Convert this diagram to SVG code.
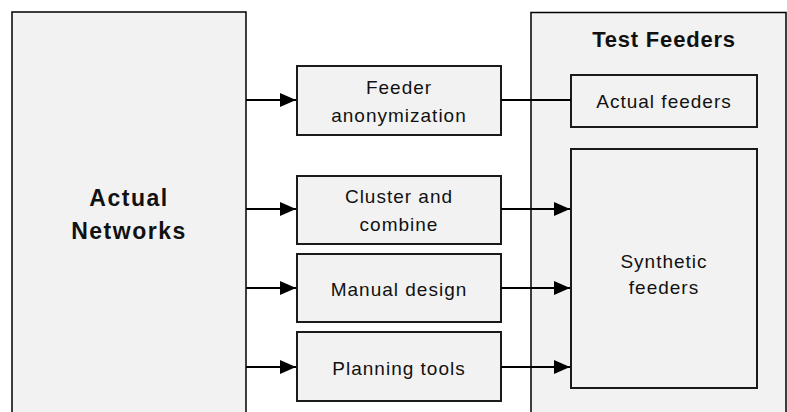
<svg xmlns="http://www.w3.org/2000/svg" width="787" height="412" viewBox="0 0 787 412">
<style>
.big{fill:#f2f2f2;stroke:#000;stroke-width:1.5}
.box{fill:#f2f2f2;stroke:#1a1a1a;stroke-width:2}
.t{font-family:"Liberation Sans",Arial,sans-serif;font-size:19px;fill:#111;text-anchor:middle;letter-spacing:1px}
.b{font-family:"Liberation Sans",Arial,sans-serif;font-size:22px;font-weight:bold;fill:#111;text-anchor:middle;letter-spacing:0.8px}
.c{stroke:#000;stroke-width:2;fill:none}
</style>
<defs>
<marker id="ah" viewBox="0 0 16 14" refX="16" refY="7" markerWidth="16" markerHeight="14" markerUnits="userSpaceOnUse" orient="auto">
<path d="M0,0 L16,7 L0,14 Z" fill="#000"/>
</marker>
</defs>
<g id="actual-networks">
<path class="big" d="M12,413 V12 H246 V413"/>
<text class="b" x="129" y="206" style="font-size:23px;letter-spacing:1.5px">Actual</text>
<text class="b" x="129" y="239" style="font-size:23px;letter-spacing:1.5px">Networks</text>
</g>
<g id="test-feeders">
<path class="big" d="M531,413 V12.5 H786 V413"/>
<text class="b" x="664" y="47">Test Feeders</text>
</g>
<g id="feeder-anonymization">
<rect class="box" x="297" y="66" width="204" height="69"/>
<text class="t" x="399" y="94">Feeder</text>
<text class="t" x="399" y="122">anonymization</text>
</g>
<g id="cluster-combine">
<rect class="box" x="297" y="176" width="204" height="68"/>
<text class="t" x="399" y="203">Cluster and</text>
<text class="t" x="399" y="231">combine</text>
</g>
<g id="manual-design">
<rect class="box" x="297" y="254" width="204" height="68"/>
<text class="t" x="399" y="296">Manual design</text>
</g>
<g id="planning-tools">
<rect class="box" x="297" y="332" width="204" height="69"/>
<text class="t" x="399" y="375">Planning tools</text>
</g>
<g id="actual-feeders">
<rect class="box" x="571" y="75" width="186" height="52"/>
<text class="t" x="664" y="108">Actual feeders</text>
</g>
<g id="synthetic-feeders">
<rect class="box" x="571" y="149" width="186" height="239"/>
<text class="t" x="664" y="268">Synthetic</text>
<text class="t" x="664" y="294">feeders</text>
</g>
<g id="connectors">
<line class="c" x1="246" y1="100" x2="296" y2="100" marker-end="url(#ah)"/>
<line class="c" x1="246" y1="209" x2="296" y2="209" marker-end="url(#ah)"/>
<line class="c" x1="246" y1="288" x2="296" y2="288" marker-end="url(#ah)"/>
<line class="c" x1="246" y1="367" x2="296" y2="367" marker-end="url(#ah)"/>
<line class="c" x1="501" y1="100" x2="571" y2="100"/>
<line class="c" x1="501" y1="209" x2="570" y2="209" marker-end="url(#ah)"/>
<line class="c" x1="501" y1="288" x2="570" y2="288" marker-end="url(#ah)"/>
<line class="c" x1="501" y1="367" x2="570" y2="367" marker-end="url(#ah)"/>
</g>
</svg>
